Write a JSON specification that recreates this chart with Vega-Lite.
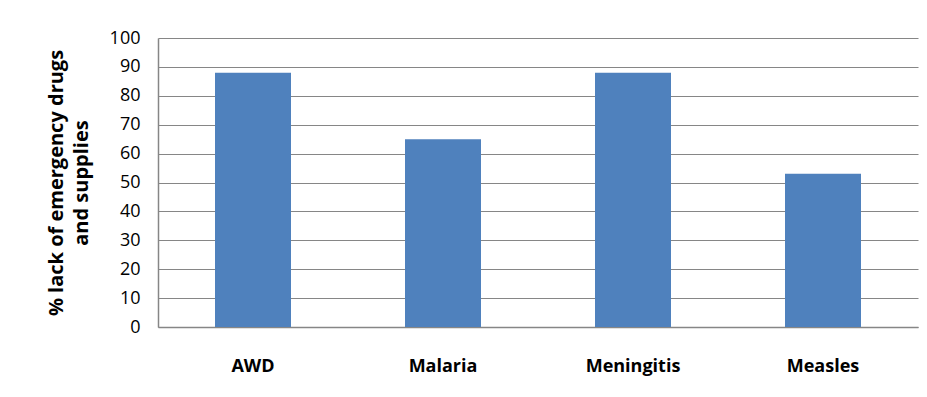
{
  "$schema": "https://vega.github.io/schema/vega-lite/v6.json",
  "width": 760,
  "height": 289,
  "autosize": {"type": "none"},
  "padding": {"left": 158, "top": 38, "right": 9, "bottom": 70},
  "background": "white",
  "data": {
    "values": [
      {"disease": "AWD", "pct": 88},
      {"disease": "Malaria", "pct": 65},
      {"disease": "Meningitis", "pct": 88},
      {"disease": "Measles", "pct": 53}
    ]
  },
  "mark": {"type": "bar", "color": "#4F81BD"},
  "encoding": {
    "x": {
      "field": "disease",
      "type": "nominal",
      "sort": null,
      "scale": {"paddingInner": 0.6, "paddingOuter": 0.3},
      "axis": {
        "title": null,
        "labelAngle": 0,
        "labelFont": "Open Sans",
        "labelFontWeight": "bold",
        "labelFontSize": 18,
        "labelColor": "#000000",
        "labelPadding": 30,
        "ticks": false,
        "domainColor": "#868686",
        "domainWidth": 1.5
      }
    },
    "y": {
      "field": "pct",
      "type": "quantitative",
      "scale": {"domain": [0, 100]},
      "axis": {
        "values": [0, 10, 20, 30, 40, 50, 60, 70, 80, 90, 100],
        "title": ["% lack of emergency drugs", "and supplies"],
        "titleFont": "Open Sans",
        "titleFontWeight": "bold",
        "titleFontSize": 20,
        "titleColor": "#000000",
        "titleLineHeight": 25,
        "titlePadding": 18,
        "labelFont": "Open Sans",
        "labelFontSize": 18,
        "labelColor": "#000000",
        "labelPadding": 18,
        "ticks": false,
        "domainColor": "#868686",
        "domainWidth": 1.5,
        "grid": true,
        "gridColor": "#868686",
        "gridWidth": 1.2
      }
    }
  },
  "config": {"view": {"stroke": null}}
}
